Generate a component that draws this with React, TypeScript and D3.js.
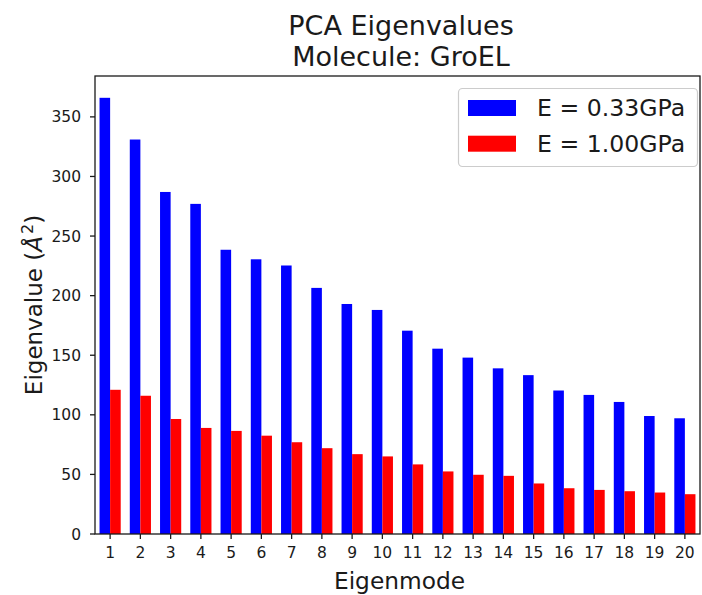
import React from "react";
import * as d3 from "d3";

// Eigenmode indices and eigenvalues (Å²) for the two elastic moduli
const modes = [1, 2, 3, 4, 5, 6, 7, 8, 9, 10, 11, 12, 13, 14, 15, 16, 17, 18, 19, 20];
const lowModulus = [366, 331, 287, 277, 238.5, 230.5, 225.3, 206.5, 193, 188, 170.6, 155.5, 148, 139, 133.3, 120.4, 116.7, 110.8, 99, 97.1];
const highModulus = [121, 116, 96.5, 89, 86.5, 82.5, 77, 72, 67, 65.1, 58.4, 52.5, 49.7, 48.8, 42.4, 38.4, 37, 35.9, 34.8, 33.4];
const seriesLabels = ["E = 0.33GPa", "E = 1.00GPa"];
const seriesColors = ["#0000ff", "#ff0000"];
const yTicks = [0, 50, 100, 150, 200, 250, 300, 350];

const W = 702;
const H = 595;
const M = { left: 95, right: 700, top: 76, bottom: 534 };
const BAR_W = 0.35;
const FONT = "DejaVu Sans, sans-serif";

export default function App() {
  const yMax = d3.max(lowModulus)! * 1.05;
  const x = d3.scaleLinear().domain([0.5, 20.5]).range([M.left, M.right]);
  const y = d3.scaleLinear().domain([0, yMax]).range([M.bottom, M.top]);
  const series = [lowModulus, highModulus];

  return (
    <svg
      width={W}
      height={H}
      style={{ position: "absolute", left: 0, top: 0, background: "#fff" }}
      fontFamily={FONT}
    >
      <rect x={0} y={0} width={W} height={H} fill="#fff" />

      {/* bars: first series left of the tick, second right of it */}
      {series.map((vals, s) =>
        vals.map((v, i) => {
          const x0 = s === 0 ? modes[i] - BAR_W : modes[i];
          return (
            <rect
              key={`${s}-${i}`}
              x={x(x0)}
              y={y(v)}
              width={x(x0 + BAR_W) - x(x0)}
              height={y(0) - y(v)}
              fill={seriesColors[s]}
            />
          );
        })
      )}

      {/* frame */}
      <rect
        x={M.left}
        y={M.top}
        width={M.right - M.left}
        height={M.bottom - M.top}
        fill="none"
        stroke="#1a1a1a"
        strokeWidth={1.3}
      />

      {/* y axis ticks */}
      {yTicks.map((t) => (
        <g key={t}>
          <line x1={M.left - 5} x2={M.left} y1={y(t)} y2={y(t)} stroke="#1a1a1a" strokeWidth={1.3} />
          <text x={M.left - 14} y={y(t)} dy="0.36em" textAnchor="end" fontSize={15.5} fill="#1a1a1a">
            {t}
          </text>
        </g>
      ))}

      {/* x axis ticks */}
      {modes.map((m) => (
        <g key={m}>
          <line x1={x(m)} x2={x(m)} y1={M.bottom} y2={M.bottom + 5} stroke="#1a1a1a" strokeWidth={1.3} />
          <text x={x(m)} y={558} textAnchor="middle" fontSize={15.5} fill="#1a1a1a">
            {m}
          </text>
        </g>
      ))}

      {/* axis labels */}
      <text x={(M.left + M.right) / 2 + 2} y={589} textAnchor="middle" fontSize={23.3} fill="#1a1a1a">
        Eigenmode
      </text>
      <text
        transform={`translate(42, ${(M.top + M.bottom) / 2}) rotate(-90)`}
        textAnchor="middle"
        fontSize={23}
        fill="#1a1a1a"
      >
        Eigenvalue (<tspan fontStyle="italic">Å</tspan>
        <tspan dx={2} dy={-9} fontSize={16}>2</tspan>
        <tspan dy={9}>)</tspan>
      </text>

      {/* title */}
      <text x={401} y={34.5} textAnchor="middle" fontSize={27} fill="#1a1a1a">
        PCA Eigenvalues
      </text>
      <text x={401} y={66} textAnchor="middle" fontSize={27} fill="#1a1a1a">
        Molecule: GroEL
      </text>

      {/* legend */}
      <g>
        <rect
          x={458.5}
          y={88.5}
          width={239}
          height={78}
          rx={4}
          fill="#fff"
          fillOpacity={0.8}
          stroke="#cccccc"
          strokeWidth={1.2}
        />
        {seriesLabels.map((label, i) => (
          <g key={label}>
            <rect x={468} y={100 + i * 35.7} width={48} height={16} fill={seriesColors[i]} />
            <text x={537} y={116 + i * 35.7} fontSize={23.6} fill="#1a1a1a">
              {label}
            </text>
          </g>
        ))}
      </g>
    </svg>
  );
}
